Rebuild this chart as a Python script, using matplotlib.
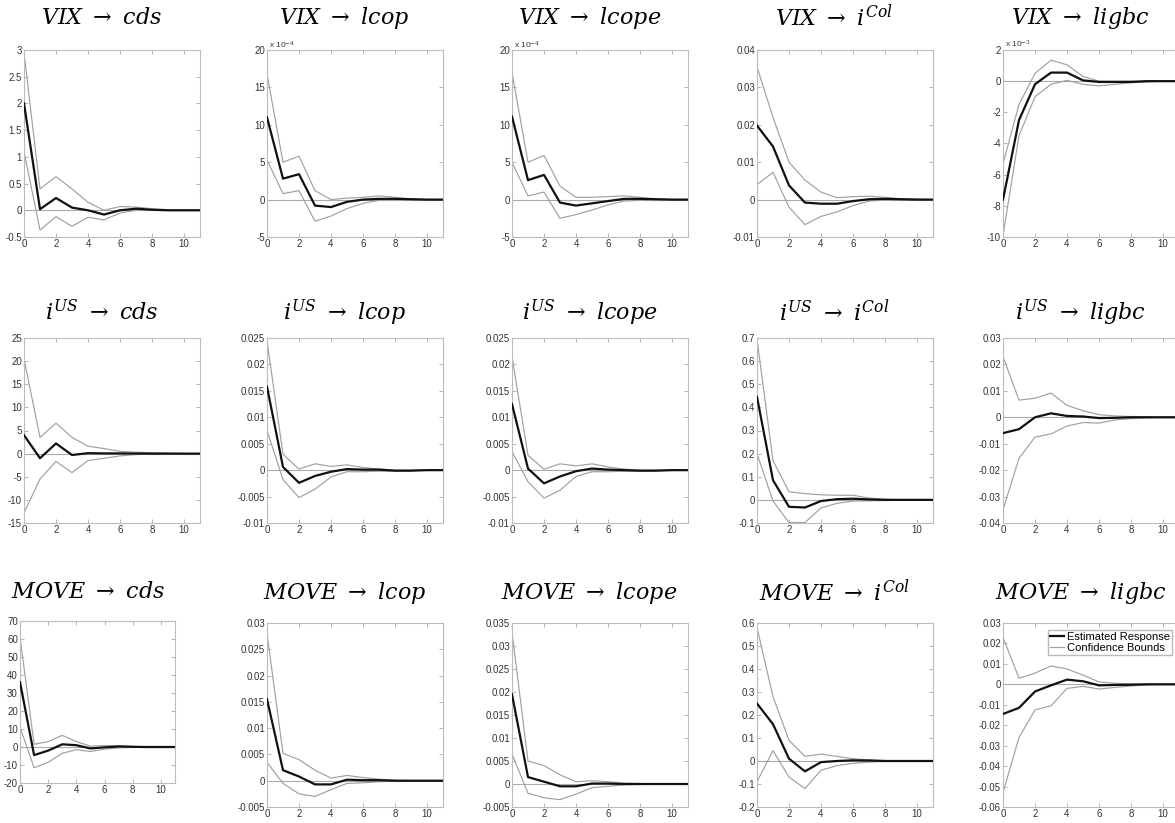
import matplotlib
matplotlib.use("Agg")
from matplotlib import pyplot as plt
from matplotlib.ticker import FuncFormatter
import numpy as np

plt.rcParams['font.family'] = ['Liberation Sans', 'DejaVu Sans']
plt.rcParams['mathtext.fontset'] = 'dejavuserif'
plt.rcParams['axes.unicode_minus'] = False

# horizon 0..11
horizon = list(range(12))

# shocks (rows) and responses (columns)
titles = [
    [r'$VIX\ \rightarrow\ cds$', r'$VIX\ \rightarrow\ lcop$', r'$VIX\ \rightarrow\ lcope$',
     r'$VIX\ \rightarrow\ i^{Col}$', r'$VIX\ \rightarrow\ ligbc$'],
    [r'$i^{US}\ \rightarrow\ cds$', r'$i^{US}\ \rightarrow\ lcop$', r'$i^{US}\ \rightarrow\ lcope$',
     r'$i^{US}\ \rightarrow\ i^{Col}$', r'$i^{US}\ \rightarrow\ ligbc$'],
    [r'$MOVE\ \rightarrow\ cds$', r'$MOVE\ \rightarrow\ lcop$', r'$MOVE\ \rightarrow\ lcope$',
     r'$MOVE\ \rightarrow\ i^{Col}$', r'$MOVE\ \rightarrow\ ligbc$'],
]

# ---- VIX shock ----
vix_cds = [2.0, 0.02, 0.23, 0.05, 0.0, -0.08, 0.0, 0.03, 0.01, 0, 0, 0]
vix_cds_up = [2.95, 0.4, 0.63, 0.4, 0.15, 0.0, 0.07, 0.06, 0.03, 0.01, 0, 0]
vix_cds_lo = [1.1, -0.37, -0.12, -0.3, -0.13, -0.18, -0.05, 0.0, 0, 0, 0, 0]

# x 10^-4
vix_lcop = [11, 2.8, 3.4, -0.8, -1.0, -0.3, 0.0, 0.1, 0.1, 0.05, 0, 0]
vix_lcop_up = [16.8, 5.0, 5.8, 1.2, 0.0, 0.2, 0.3, 0.5, 0.3, 0.1, 0, 0]
vix_lcop_lo = [5.3, 0.8, 1.2, -2.9, -2.2, -1.2, -0.5, -0.1, 0, 0, 0, 0]

# x 10^-4
vix_lcope = [11.1, 2.6, 3.3, -0.4, -0.8, -0.5, -0.2, 0.1, 0.1, 0.05, 0, 0]
vix_lcope_up = [17.0, 5.0, 5.9, 1.8, 0.3, 0.3, 0.4, 0.5, 0.3, 0.1, 0, 0]
vix_lcope_lo = [5.0, 0.5, 1.0, -2.5, -2.0, -1.4, -0.7, -0.2, -0.1, 0, 0, 0]

vix_icol = [0.0198, 0.0142, 0.0038, -0.0008, -0.0011, -0.0011, -0.0004, 0.0001, 0.0002, 0.0001, 0, 0]
vix_icol_up = [0.0355, 0.022, 0.0100, 0.0052, 0.0020, 0.0005, 0.0008, 0.0009, 0.0006, 0.0002, 0.0001, 0]
vix_icol_lo = [0.0040, 0.0073, -0.0020, -0.0067, -0.0045, -0.0033, -0.0016, -0.0004, -0.0001, 0, 0, 0]

# x 10^-3
vix_ligbc = [-7.6, -2.5, -0.2, 0.55, 0.55, 0.05, -0.05, -0.05, -0.05, 0, 0, 0]
vix_ligbc_up = [-5.3, -1.5, 0.5, 1.35, 1.05, 0.3, 0.0, 0.0, 0.0, 0, 0, 0]
vix_ligbc_lo = [-9.9, -3.5, -1.0, -0.2, 0.05, -0.2, -0.3, -0.2, -0.1, -0.05, 0, 0]

# ---- US rate shock ----
ius_cds = [4.0, -1.0, 2.2, -0.3, 0.1, 0.05, 0.05, 0.02, 0, 0, 0, 0]
ius_cds_up = [20.5, 3.5, 6.6, 3.5, 1.6, 1.1, 0.5, 0.3, 0.2, 0.1, 0, 0]
ius_cds_lo = [-12.8, -5.5, -1.7, -4.1, -1.5, -1.0, -0.5, -0.2, -0.1, 0, 0, 0]

ius_lcop = [0.0158, 0.0006, -0.0024, -0.0011, -0.0003, 0.0002, 0.0001, 0.0001, -0.0001, -0.0001, 0, 0]
ius_lcop_up = [0.0245, 0.0030, 0.0002, 0.0012, 0.0007, 0.0010, 0.0005, 0.0002, 0.0, 0, 0, 0]
ius_lcop_lo = [0.0075, -0.0018, -0.0052, -0.0036, -0.0013, -0.0003, -0.0003, -0.0002, -0.0002, -0.0001, 0, 0]

ius_lcope = [0.0125, 0.0003, -0.0025, -0.0012, -0.0002, 0.0003, 0.0001, 0.0, -0.0001, -0.0001, 0, 0]
ius_lcope_up = [0.0215, 0.0028, 0.0002, 0.0012, 0.0008, 0.0012, 0.0006, 0.0002, 0, 0, 0, 0]
ius_lcope_lo = [0.0035, -0.0022, -0.0053, -0.0038, -0.0012, -0.0003, -0.0003, -0.0002, -0.0002, -0.0001, 0, 0]

ius_icol = [0.445, 0.085, -0.030, -0.033, -0.005, 0.003, 0.005, 0.002, 0.0, 0, 0, 0]
ius_icol_up = [0.695, 0.17, 0.035, 0.027, 0.022, 0.02, 0.02, 0.008, 0.003, 0.001, 0, 0]
ius_icol_lo = [0.20, -0.005, -0.098, -0.098, -0.035, -0.015, -0.005, -0.004, -0.003, -0.001, 0, 0]

ius_ligbc = [-0.006, -0.0045, 0.0, 0.0015, 0.0005, 0.0003, -0.0003, -0.0002, 0.0, 0.0, 0, 0]
ius_ligbc_up = [0.023, 0.0065, 0.0072, 0.0092, 0.0045, 0.0025, 0.001, 0.0005, 0.0003, 0.0002, 0, 0]
ius_ligbc_lo = [-0.035, -0.0155, -0.0075, -0.0063, -0.0033, -0.0020, -0.0022, -0.0010, -0.0005, -0.0002, 0, 0]

# ---- MOVE shock ----
move_cds = [36, -4.5, -2.0, 1.5, 1.0, -0.8, -0.2, 0.3, 0.1, 0, 0, 0]
move_cds_up = [61, 1.5, 3.0, 6.5, 3.0, 0.5, 0.8, 0.8, 0.4, 0.1, 0, 0]
move_cds_lo = [11, -11.5, -8.5, -3.5, -1.5, -2.5, -1.2, -0.5, -0.2, 0, 0, 0]

move_lcop = [0.0155, 0.002, 0.0008, -0.0007, -0.0007, 0.0002, 0.0001, 0.0001, 0, 0, 0, 0]
move_lcop_up = [0.028, 0.0052, 0.004, 0.002, 0.0005, 0.001, 0.0006, 0.0003, 0.0001, 0, 0, 0]
move_lcop_lo = [0.0035, -0.0005, -0.0025, -0.003, -0.0017, -0.0005, -0.0004, -0.0002, -0.0001, 0, 0, 0]

move_lcope = [0.0195, 0.0015, 0.0005, -0.0005, -0.0005, 0.0001, 0.0001, 0, 0, 0, 0, 0]
move_lcope_up = [0.033, 0.005, 0.004, 0.002, 0.0005, 0.0007, 0.0005, 0.0002, 0.0001, 0, 0, 0]
move_lcope_lo = [0.0065, -0.002, -0.003, -0.0034, -0.0022, -0.0008, -0.0005, -0.0002, -0.0001, 0, 0, 0]

move_icol = [0.25, 0.16, 0.01, -0.045, -0.005, 0.0, 0.003, 0.002, 0.0, 0, 0, 0]
move_icol_up = [0.58, 0.28, 0.09, 0.02, 0.03, 0.02, 0.01, 0.005, 0.002, 0, 0, 0]
move_icol_lo = [-0.09, 0.045, -0.07, -0.12, -0.04, -0.02, -0.01, -0.005, -0.002, 0, 0, 0]

move_ligbc = [-0.0145, -0.0115, -0.0035, -0.0005, 0.0023, 0.0015, -0.0005, -0.0003, -0.0002, 0.0, 0, 0]
move_ligbc_up = [0.023, 0.003, 0.0055, 0.009, 0.0075, 0.0045, 0.0012, 0.0005, 0.0002, 0.0001, 0, 0]
move_ligbc_lo = [-0.053, -0.026, -0.0125, -0.0105, -0.002, -0.001, -0.0023, -0.0015, -0.0008, -0.0003, 0, 0]

responses = [
    [(vix_cds, vix_cds_up, vix_cds_lo), (vix_lcop, vix_lcop_up, vix_lcop_lo),
     (vix_lcope, vix_lcope_up, vix_lcope_lo), (vix_icol, vix_icol_up, vix_icol_lo),
     (vix_ligbc, vix_ligbc_up, vix_ligbc_lo)],
    [(ius_cds, ius_cds_up, ius_cds_lo), (ius_lcop, ius_lcop_up, ius_lcop_lo),
     (ius_lcope, ius_lcope_up, ius_lcope_lo), (ius_icol, ius_icol_up, ius_icol_lo),
     (ius_ligbc, ius_ligbc_up, ius_ligbc_lo)],
    [(move_cds, move_cds_up, move_cds_lo), (move_lcop, move_lcop_up, move_lcop_lo),
     (move_lcope, move_lcope_up, move_lcope_lo), (move_icol, move_icol_up, move_icol_lo),
     (move_ligbc, move_ligbc_up, move_ligbc_lo)],
]

# y ranges (ymin, ymax, step) and exponent label
yranges = [
    [(-0.5, 3, 0.5), (-5, 20, 5), (-5, 20, 5), (-0.01, 0.04, 0.01), (-10, 2, 2)],
    [(-15, 25, 5), (-0.01, 0.025, 0.005), (-0.01, 0.025, 0.005), (-0.1, 0.7, 0.1), (-0.04, 0.03, 0.01)],
    [(-20, 70, 10), (-0.005, 0.03, 0.005), (-0.005, 0.035, 0.005), (-0.2, 0.6, 0.1), (-0.06, 0.03, 0.01)],
]
exponents = [
    [None, -4, -4, None, -3],
    [None, None, None, None, None],
    [None, None, None, None, None],
]

W, H = 1175, 823
lefts = [24, 267, 512, 757, 1003]
width = 176
row_top = [50, 338, 623]
row_bot = [237, 523, 807]
title_y = [18, 313, 593]

fig = plt.figure(figsize=(W / 100, H / 100), dpi=100)

fmt = FuncFormatter(lambda v, p: '%g' % round(v, 6))
gray = '#a0a0a0'

for r in range(3):
    for c in range(5):
        top, bot, left, w = row_top[r], row_bot[r], lefts[c], width
        if r == 2 and c == 0:
            left, w, top, bot = 20, 155, 621, 783
        ax = fig.add_axes([left / W, 1 - bot / H, w / W, (bot - top) / H])
        est, up, lo = responses[r][c]
        ax.axhline(0, color='#aaaaaa', lw=0.8, zorder=1)
        ax.plot(horizon, up, color=gray, lw=0.85, label='Confidence Bounds', zorder=2)
        ax.plot(horizon, lo, color=gray, lw=0.85, zorder=2)
        ax.plot(horizon, est, color='#111111', lw=1.6, label='Estimated Response', zorder=3)
        ymin, ymax, step = yranges[r][c]
        ax.set_xlim(0, 11)
        ax.set_ylim(ymin, ymax)
        ax.set_xticks([0, 2, 4, 6, 8, 10])
        ax.set_yticks(np.arange(ymin, ymax + step / 2, step))
        ax.yaxis.set_major_formatter(fmt)
        ax.tick_params(direction='in', length=3, width=0.6, colors='#aaaaaa',
                       labelcolor='#333333', labelsize=7, pad=1.5,
                       top=True, right=True)
        for s in ax.spines.values():
            s.set_color('#bbbbbb')
            s.set_linewidth(0.8)
        if exponents[r][c] is not None:
            ax.text(0.01, 1.0, r'x 10$^{%d}$' % exponents[r][c], transform=ax.transAxes,
                    fontsize=6, color='#333333', ha='left', va='bottom')
        fig.text((left + 0.44 * w) / W, 1 - title_y[r] / H, titles[r][c],
                 fontsize=16, ha='center', va='center')
        if r == 2 and c == 4:
            h, l = ax.get_legend_handles_labels()
            ax.legend([h[1], h[0]], [l[1], l[0]], loc='upper right', fontsize=8,
                      frameon=True, fancybox=False, edgecolor='#aaaaaa',
                      handlelength=1.2, handletextpad=0.3, borderpad=0.2,
                      labelspacing=0.1, borderaxespad=0.6)

fig.savefig('out.png', dpi=100)
